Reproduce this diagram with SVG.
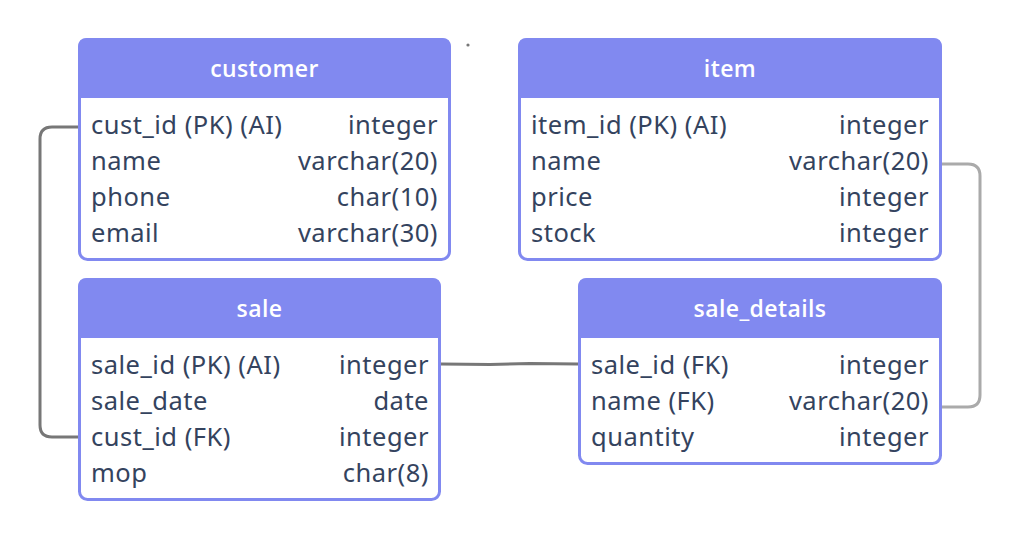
<svg xmlns="http://www.w3.org/2000/svg" width="1020" height="541" viewBox="0 0 1020 541">
<style>
.box{fill:#ffffff;stroke:#8189f0;stroke-width:3}
.hdr{fill:#8189f0}
.title{font-family:"Open Sans","Noto Sans",sans-serif;font-weight:600;font-size:23px;letter-spacing:0.4px;fill:#ffffff;text-anchor:middle}
.t{font-family:"Noto Sans","Open Sans",sans-serif;font-size:25.5px;letter-spacing:0.5px;fill:#34435e}
.r{text-anchor:end}
.conn{fill:none;stroke-width:3;stroke-linecap:round;stroke-linejoin:round}
</style>
<rect width="1020" height="541" fill="#ffffff"/>
<g id="connectors">
<path class="conn" stroke="#777777" d="M78,127 H52 Q40,127 40,139 V425 Q40,437 52,437 H78"/>
<path class="conn" stroke="#777777" d="M441,364 L490,364.5 L530,363.5 L578,364"/>
<path class="conn" stroke="#aaaaaa" d="M942,164 H968 Q980,164 980,176 V395 Q980,407 968,407 H942"/>
</g>
<circle cx="468" cy="45" r="1.6" fill="#777777"/>
<g id="customer">
<rect class="box" x="79.5" y="39.5" width="370" height="220" rx="8"/>
<path class="hdr" d="M78,98 V47 Q78,38 87,38 H442 Q451,38 451,47 V98 Z"/>
<text class="title" x="264.5" y="77">customer</text>
<text class="t" x="91" y="134">cust_id (PK) (AI)</text>
<text class="t r" x="438" y="134">integer</text>
<text class="t" x="91" y="170">name</text>
<text class="t r" x="438" y="170">varchar(20)</text>
<text class="t" x="91" y="206">phone</text>
<text class="t r" x="438" y="206">char(10)</text>
<text class="t" x="91" y="242">email</text>
<text class="t r" x="438" y="242">varchar(30)</text>
</g>
<g id="item">
<rect class="box" x="519.5" y="39.5" width="421" height="220" rx="8"/>
<path class="hdr" d="M518,98 V47 Q518,38 527,38 H933 Q942,38 942,47 V98 Z"/>
<text class="title" x="730" y="77">item</text>
<text class="t" x="531" y="134">item_id (PK) (AI)</text>
<text class="t r" x="929" y="134">integer</text>
<text class="t" x="531" y="170">name</text>
<text class="t r" x="929" y="170">varchar(20)</text>
<text class="t" x="531" y="206">price</text>
<text class="t r" x="929" y="206">integer</text>
<text class="t" x="531" y="242">stock</text>
<text class="t r" x="929" y="242">integer</text>
</g>
<g id="sale">
<rect class="box" x="79.5" y="279.5" width="360" height="220" rx="8"/>
<path class="hdr" d="M78,338 V287 Q78,278 87,278 H432 Q441,278 441,287 V338 Z"/>
<text class="title" x="259.5" y="317">sale</text>
<text class="t" x="91" y="374">sale_id (PK) (AI)</text>
<text class="t r" x="429" y="374">integer</text>
<text class="t" x="91" y="410">sale_date</text>
<text class="t r" x="429" y="410">date</text>
<text class="t" x="91" y="446">cust_id (FK)</text>
<text class="t r" x="429" y="446">integer</text>
<text class="t" x="91" y="482">mop</text>
<text class="t r" x="429" y="482">char(8)</text>
</g>
<g id="sale_details">
<rect class="box" x="579.5" y="279.5" width="361" height="184" rx="8"/>
<path class="hdr" d="M578,338 V287 Q578,278 587,278 H933 Q942,278 942,287 V338 Z"/>
<text class="title" x="760" y="317">sale_details</text>
<text class="t" x="591" y="374">sale_id (FK)</text>
<text class="t r" x="929" y="374">integer</text>
<text class="t" x="591" y="410">name (FK)</text>
<text class="t r" x="929" y="410">varchar(20)</text>
<text class="t" x="591" y="446">quantity</text>
<text class="t r" x="929" y="446">integer</text>
</g>
</svg>
